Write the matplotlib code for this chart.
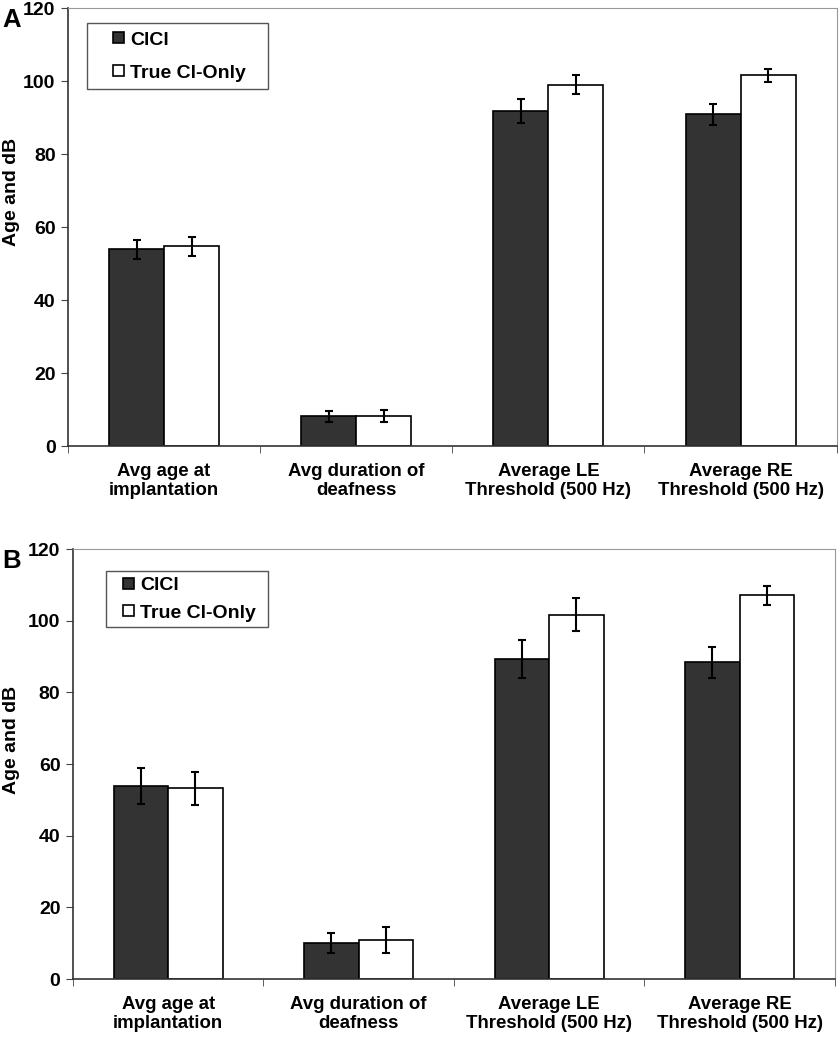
import numpy as np
import matplotlib.pyplot as plt
from matplotlib.patches import Rectangle
from matplotlib.container import BarContainer
from matplotlib.legend_handler import HandlerPatch, update_from_first_child

plt.rcParams['font.family'] = ['Liberation Sans', 'DejaVu Sans']

# categories and data
categorias = ['Avg age at\nimplantation', 'Avg duration of\ndeafness',
              'Average LE\nThreshold (500 Hz)', 'Average RE\nThreshold (500 Hz)']
series = ['ClCl', 'True Cl-Only']

# Panel A
cici_a = [53.9, 8.2, 91.8, 90.9]
cici_a_err = [2.6, 1.5, 3.4, 2.8]
true_a = [54.8, 8.2, 99.0, 101.6]
true_a_err = [2.6, 1.7, 2.6, 1.8]

# Panel B
cici_b = [53.9, 10.1, 89.3, 88.4]
cici_b_err = [5.0, 2.7, 5.3, 4.3]
true_b = [53.3, 10.9, 101.7, 107.1]
true_b_err = [4.6, 3.6, 4.5, 2.6]

fig = plt.figure(figsize=(8.4, 10.5), dpi=100)


def cuadrado(legend, orig_handle, xdescent, ydescent, width, height, fontsize):
    # cuadrito pegado al lado derecho del espacio del handle (como en Excel)
    s = 0.57 * fontsize
    return Rectangle((-xdescent + width - s, -ydescent + (height - s) / 2), s, s)


def panel(rect, v1, e1, v2, e2, letra, leg_box, leg_spacing, leg_pad, hlen, ylab_xy):
    ax = fig.add_axes(rect)
    x = np.arange(len(categorias))
    w = 0.286
    ax.bar(x - w/2, v1, w, color='#333333', edgecolor='black', linewidth=1.2,
           label=series[0], zorder=2)
    ax.bar(x + w/2, v2, w, color='white', edgecolor='black', linewidth=1.2,
           label=series[1], zorder=2)
    ax.errorbar(x - w/2, v1, yerr=e1, fmt='none', ecolor='black',
                elinewidth=1.5, capsize=2.6, capthick=1.5, zorder=3)
    ax.errorbar(x + w/2, v2, yerr=e2, fmt='none', ecolor='black',
                elinewidth=1.5, capsize=2.6, capthick=1.5, zorder=3)
    ax.set_xlim(-0.5, len(categorias) - 0.5)
    ax.set_ylim(0, 120)
    ax.set_yticks(np.arange(0, 121, 20))
    ax.set_xticks(x)
    ax.set_xticklabels(categorias, fontsize=13.4, fontweight='bold')
    ax.set_xticks(np.arange(-0.5, len(categorias), 1), minor=True)
    ax.tick_params(axis='x', which='major', length=0, pad=12)
    ax.tick_params(axis='x', which='minor', length=5, color='#444444')
    ax.tick_params(axis='y', length=5, labelsize=14, color='#444444', pad=4)
    for t in ax.get_yticklabels():
        t.set_fontweight('bold')
    ax.set_ylabel('Age and dB', fontsize=14, fontweight='bold')
    ax.yaxis.set_label_coords(*ylab_xy)
    for s in ['top', 'right']:
        ax.spines[s].set_color('#999999')
    for s in ['left', 'bottom']:
        ax.spines[s].set_color('#333333')
        ax.spines[s].set_linewidth(1.2)
    hmap = {BarContainer: HandlerPatch(patch_func=cuadrado,
                                       update_func=update_from_first_child)}
    leg = ax.legend(loc='upper left', bbox_to_anchor=leg_box, mode='expand',
                    fancybox=False, edgecolor='#555555', framealpha=1,
                    borderpad=leg_pad, labelspacing=leg_spacing,
                    handlelength=hlen, handleheight=0.85,
                    handletextpad=0.3, borderaxespad=0, handler_map=hmap,
                    prop={'size': 14, 'weight': 'bold'})
    leg.get_frame().set_linewidth(1.0)
    fig.text(0.003, rect[1] + rect[3] - 0.0, letra, fontsize=18.5,
             fontweight='bold', va='top', ha='left')
    return ax


panel([0.081, 0.5752, 0.915, 0.4171], cici_a, cici_a_err, true_a, true_a_err,
      'A', (0.0247, 0.0, 0.2354, 0.9658), 0.75, 0.36, 1.55, (-0.0624, 0.58))
panel([0.0869, 0.0676, 0.907, 0.4095], cici_b, cici_b_err, true_b, true_b_err,
      'B', (0.0433, 0.0, 0.2126, 0.9488), 0.45, 0.25, 1.19, (-0.0696, 0.556))

fig.savefig('out.png', dpi=100)
